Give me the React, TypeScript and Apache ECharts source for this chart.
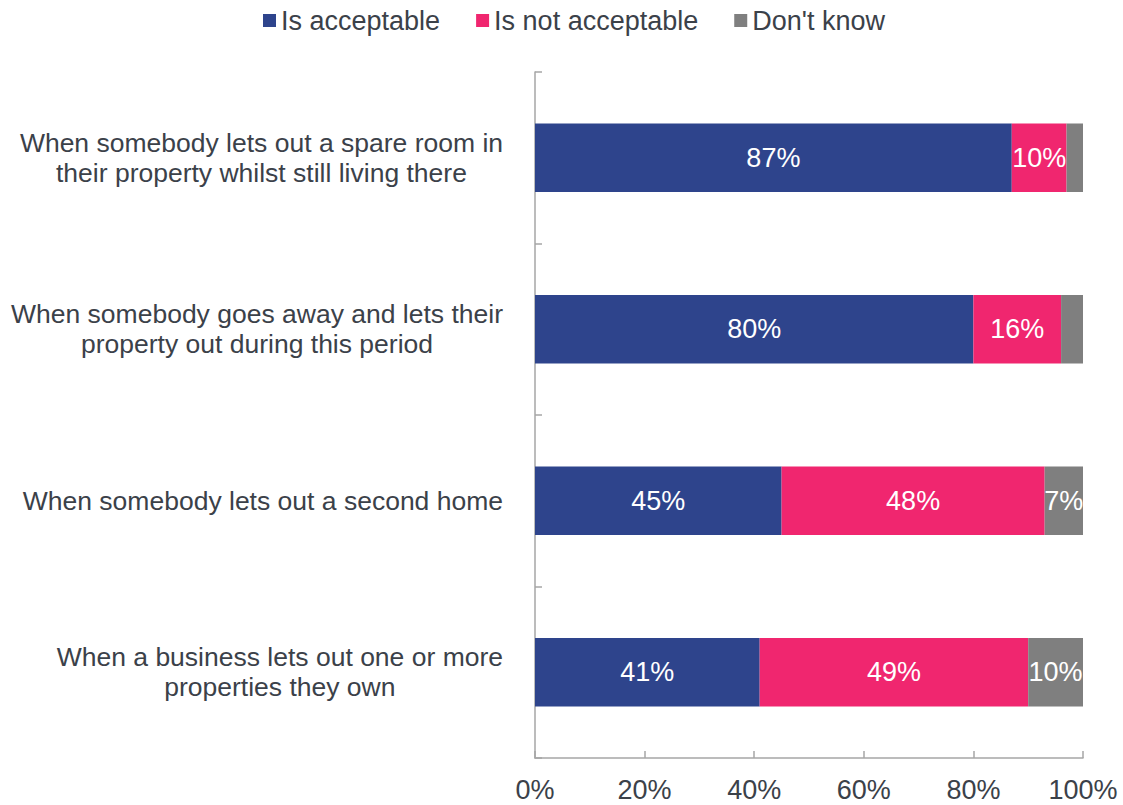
import React, { useEffect, useRef } from "react";
import * as echarts from "echarts";

const categories = [
  "When somebody lets out a spare room in\ntheir property whilst still living there",
  "When somebody goes away and lets their\nproperty out during this period",
  "When somebody lets out a second home",
  "When a business lets out one or more\nproperties they own",
];
const acceptable = [87, 80, 45, 41];
const notAcceptable = [10, 16, 48, 49];
const dontKnow = [3, 4, 7, 10];
const xTicks = [0, 20, 40, 60, 80, 100];

const FONT = "'Liberation Sans', Arial, sans-serif";
const TEXT = "#3b4149";
const AXIS = "#a6a6a6";
const FS = 27;

export default function App() {
  const ref = useRef<HTMLDivElement>(null);
  useEffect(() => {
    const chart = echarts.init(ref.current!, undefined, { renderer: "svg" });
    const label = {
      show: true,
      position: "inside",
      color: "#ffffff",
      fontSize: FS,
      fontFamily: FONT,
      formatter: (p: any) => (p.value >= 5 ? p.value + "%" : ""),
    };
    const mk = (name: string, data: number[], color: string) => ({
      name,
      type: "bar",
      stack: "total",
      data,
      barWidth: "40%",
      itemStyle: { color },
      label,
    });
    chart.setOption({
      animation: false,
      textStyle: { fontFamily: FONT },
      legend: {
        top: 2,
        left: 258,
        itemWidth: 13,
        itemHeight: 13,
        itemGap: 36,
        icon: "rect",
        textStyle: { fontSize: FS, color: TEXT, fontFamily: FONT },
        data: ["Is acceptable", "Is not acceptable", "Don't know"],
      },
      grid: { left: 535, right: 40, top: 72, bottom: 47, containLabel: false },
      xAxis: {
        type: "value",
        min: 0,
        max: 100,
        interval: 20,
        axisLine: { show: true, lineStyle: { color: AXIS, width: 1.5 } },
        axisTick: { show: true, inside: true, length: 7, lineStyle: { color: AXIS, width: 1.5 } },
        splitLine: { show: false },
        axisLabel: {
          fontSize: FS,
          color: TEXT,
          fontFamily: FONT,
          margin: 18,
          formatter: (v: number) => (xTicks.includes(v) ? v + "%" : ""),
        },
      },
      yAxis: {
        type: "category",
        inverse: true,
        data: categories,
        axisLine: { show: true, lineStyle: { color: AXIS, width: 1.5 } },
        axisTick: { show: true, inside: true, length: 7, lineStyle: { color: AXIS, width: 1.5 } },
        axisLabel: {
          margin: 32,
          fontFamily: FONT,
          color: TEXT,
          formatter: (v: string) =>
            v
              .split("\n")
              .map((l) => "{c|" + l + "}")
              .join("\n"),
          rich: {
            c: { align: "center", fontSize: 26.5, lineHeight: 30, color: TEXT, fontFamily: FONT },
          },
        },
      },
      series: [
        mk("Is acceptable", acceptable, "#2e448c"),
        mk("Is not acceptable", notAcceptable, "#f0266f"),
        mk("Don't know", dontKnow, "#7f7f7f"),
      ],
    });
    return () => chart.dispose();
  }, []);
  return <div ref={ref} style={{ width: 1123, height: 805, position: "absolute", left: 0, top: 0 }} />;
}
